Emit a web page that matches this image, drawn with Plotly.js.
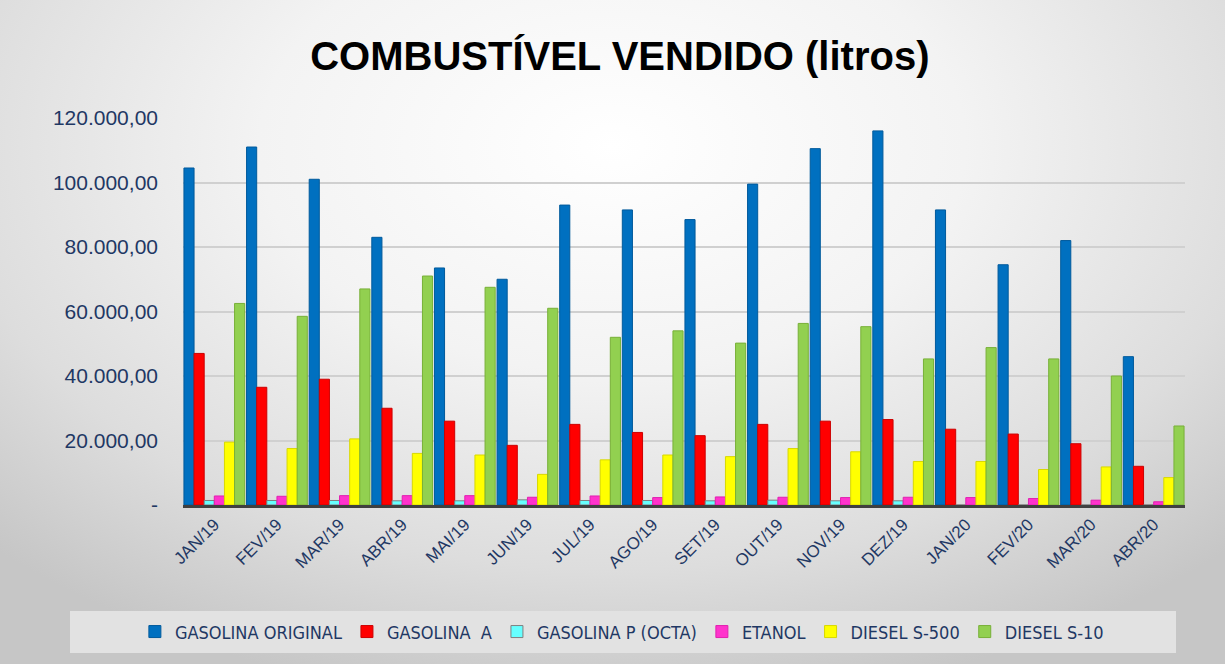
<!DOCTYPE html>
<html>
<head>
<meta charset="utf-8">
<script src="https://cdn.plot.ly/plotly-3.0.1.min.js"></script>
<style>
html,body{margin:0;padding:0;}
#wrap{width:1225px;height:664px;position:relative;
 background: radial-gradient(ellipse 72% 85% at 50% 22%, #ffffff 0%, #f3f3f3 40%, #dddddd 75%, #c6c6c6 100%);}
#chart{width:1225px;height:664px;position:absolute;left:0;top:0;}
#legbox{position:absolute;left:70px;top:611px;width:1106px;height:42px;background:#e2e2e2;}
</style>
</head>
<body>
<div id="wrap"><div id="legbox"></div><div id="chart"></div></div>
<script>
const months = ["JAN/19","FEV/19","MAR/19","ABR/19","MAI/19","JUN/19","JUL/19","AGO/19","SET/19","OUT/19","NOV/19","DEZ/19","JAN/20","FEV/20","MAR/20","ABR/20"];
const gasolinaOriginal = [104500,111000,101000,83000,73500,70000,93000,91500,88500,99500,110500,116000,91500,74500,82000,46000];
const gasolinaA = [47000,36500,39000,30000,26000,18500,25000,22500,21500,25000,26000,26500,23500,22000,19000,12000];
const gasolinaP = [1400,1400,1400,1300,1300,1600,1400,1400,1300,1500,1300,1300,0,0,0,0];
const etanol = [2800,2700,2900,2900,2900,2400,2800,2300,2500,2400,2300,2400,2300,2000,1500,1000];
const dieselS500 = [19500,17500,20500,16000,15500,9500,14000,15500,15000,17500,16500,13500,13500,11000,11800,8500];
const dieselS10 = [62500,58500,67000,71000,67500,61000,52000,54000,50200,56300,55300,45300,48800,45300,40000,24500];

const yTickVals = [0,20000,40000,60000,80000,100000,120000];
const yTickText = ["-","20.000,00","40.000,00","60.000,00","80.000,00","100.000,00","120.000,00"];

const series = [
 {name:"GASOLINA ORIGINAL", y:gasolinaOriginal, color:"#0070C0", line:"#005a9c"},
 {name:"GASOLINA  A", y:gasolinaA, color:"#FF0000", line:"#cc0000"},
 {name:"GASOLINA P (OCTA)", y:gasolinaP, color:"#66FFFF", line:"#7f7f7f"},
 {name:"ETANOL", y:etanol, color:"#FF33CC", line:"#e020b0"},
 {name:"DIESEL S-500", y:dieselS500, color:"#FFFF00", line:"#d8d800"},
 {name:"DIESEL S-10", y:dieselS10, color:"#92D050", line:"#78b038"}
];

const traces = series.map(s => ({
 type:"bar", name:s.name, x:months, y:s.y,
 marker:{color:s.color, line:{color:s.line, width:1}},
 hoverinfo:"x+y+name"
}));

const navy = "#1F3864";
const layout = {
 width:1225, height:664,
 paper_bgcolor:"rgba(0,0,0,0)", plot_bgcolor:"rgba(0,0,0,0)",
 margin:{l:183, r:40, t:118, b:159, autoexpand:false},
 title:{text:"<b>COMBUSTÍVEL VENDIDO (litros)</b>", x:0.506, xanchor:"center", y:0.915, yanchor:"middle",
  font:{family:"Liberation Sans, Arial, sans-serif", size:40, color:"#000000"}},
 barmode:"group", bargap:0.03, bargroupgap:0,
 showlegend:true,
 legend:{orientation:"h", x:0.438, xanchor:"center", y:-0.28, yanchor:"top",
  font:{family:"DejaVu Sans Condensed, sans-serif", size:18, color:navy},
  bgcolor:"rgba(0,0,0,0)", itemwidth:30, traceorder:"normal"},
 xaxis:{tickangle:-45, tickfont:{family:"Liberation Sans, Arial, sans-serif", size:17, color:navy},
  showgrid:false, showline:true, linecolor:"#404040", linewidth:3, ticks:"", automargin:false},
 yaxis:{range:[0,120000], tickvals:yTickVals, ticktext:yTickText,
  tickfont:{family:"Liberation Sans, Arial, sans-serif", size:21, color:navy},
  showgrid:true, gridcolor:"#d0d0d0", gridwidth:2, zeroline:false, showline:false, ticks:"", ticklabelstandoff:24, automargin:false}
};

Plotly.newPlot("chart", traces, layout, {displayModeBar:false, staticPlot:true});
</script>
</body>
</html>
